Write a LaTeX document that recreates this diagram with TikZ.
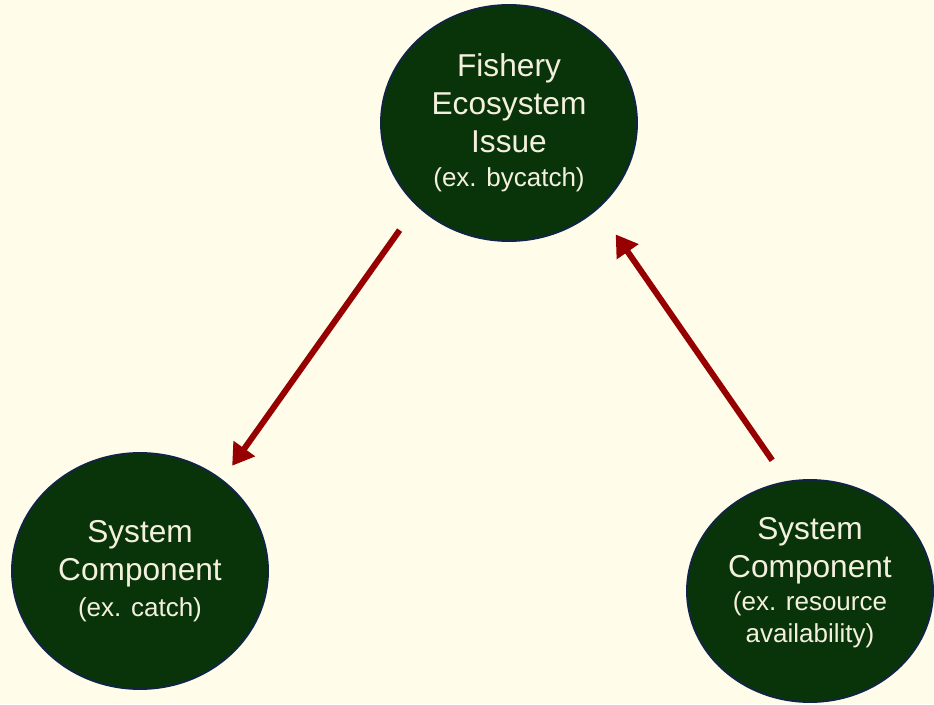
\documentclass[tikz,border=0pt]{standalone}
\usepackage{fontspec}
\setmainfont{Liberation Sans}
\usepackage{tikz}
\usetikzlibrary{arrows.meta,shapes.geometric}

\definecolor{paper}{RGB}{255,252,234}
\definecolor{issuegreen}{RGB}{9,52,10}
\definecolor{rimblue}{RGB}{16,36,72}
\definecolor{cream}{RGB}{244,240,222}
\definecolor{linkred}{RGB}{150,0,0}

\newcommand{\exnote}[1]{{\fontsize{18.5}{22}\selectfont #1}}

\begin{document}
\begin{tikzpicture}[x=0.025cm,y=-0.025cm]
\tikzset{issue/.style = {shape=ellipse,draw=rimblue,line width=1.3pt,fill=issuegreen,
  text=cream,align=center,inner sep=0pt,font=\fontsize{22.5}{27}\selectfont}}
\tikzset{link/.style = {draw=linkred,line width=4.3pt,-{Triangle[length=15pt,width=18pt]}}}

\fill[paper] (0,0) rectangle (934,704);
\useasboundingbox (0,0) rectangle (934,704);

\node[issue,minimum width=6.4cm,minimum height=5.9cm] (fei) at (509,123)
  {Fishery\\Ecosystem\\ Issue\\[-2.5pt]\exnote{(ex. bycatch)}};
\node[issue,minimum width=6.4cm,minimum height=5.9cm] (catch) at (140,571)
  {System\\Component\\[-1.5pt]\exnote{(ex. catch)}};
\node[issue,minimum width=6.15cm,minimum height=5.55cm] (res) at (810,591)
  {System\\Component\\[-3pt]\exnote{(ex. resource}\\[-4.5pt]\exnote{availability)}\\[-11pt]\mbox{}};

\draw[link,shorten <=21pt,shorten >=12pt] (fei.222.7) -- (catch.48);
\draw[link,shorten <=18pt,shorten >=22pt] (res.102.9) -- (fei.316.4);

\end{tikzpicture}
\end{document}
